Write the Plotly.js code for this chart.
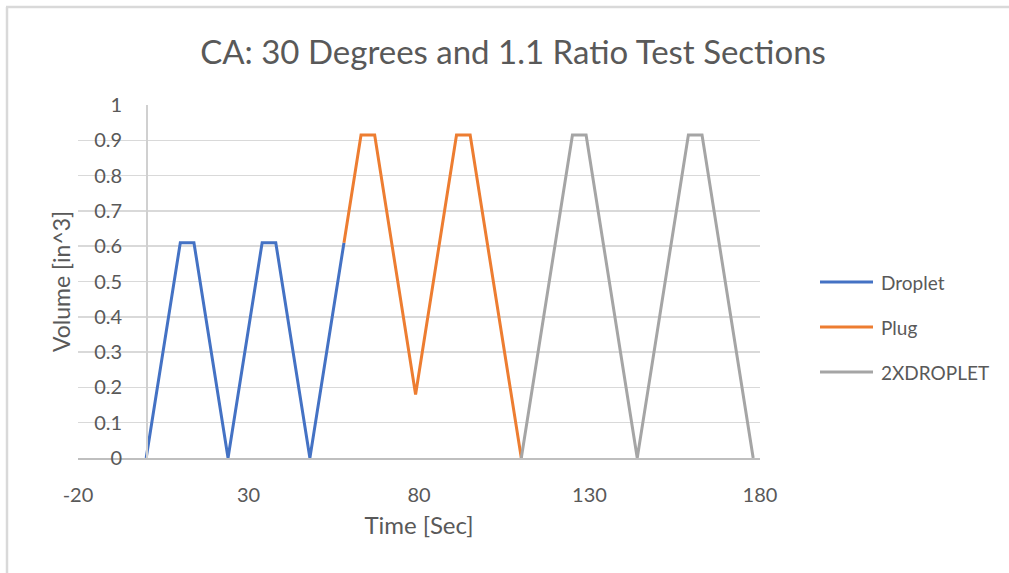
<!DOCTYPE html>
<html>
<head>
<meta charset="utf-8">
<script src="https://cdn.plot.ly/plotly-3.0.1.min.js"></script>
<style>
  html, body { margin: 0; padding: 0; background: #ffffff; overflow: hidden; }
  #chart { width: 1009px; height: 573px; }
</style>
</head>
<body>
<div id="chart"></div>
<script>
// Test section volume over time
const dropletTime = [0, 10, 14, 24, 34, 38, 48, 58];
const dropletVol  = [0, 0.61, 0.61, 0, 0.61, 0.61, 0, 0.61];

const plugTime = [58, 63, 67, 79, 91, 95, 110];
const plugVol  = [0.61, 0.915, 0.915, 0.18, 0.915, 0.915, 0];

const doubleTime = [110, 125, 129, 144, 159, 163, 178];
const doubleVol  = [0, 0.915, 0.915, 0, 0.915, 0.915, 0];

const xTicks = [-20, 30, 80, 130, 180];
const yTicks = [0, 0.1, 0.2, 0.3, 0.4, 0.5, 0.6, 0.7, 0.8, 0.9, 1];

const seriesNames  = ['Droplet', 'Plug', '2XDROPLET'];
const seriesColors = ['#4472C4', '#ED7D31', '#A5A5A5'];

const W = 1009, H = 573;
const M = { l: 78, r: 249, t: 105, b: 115 };
const plotW = W - M.l - M.r, plotH = H - M.t - M.b;
const px = v => (v - M.l) / plotW;          // pixel x -> paper x
const py = v => (H - M.b - v) / plotH;      // pixel y -> paper y

const FONT = 'Lato, "Open Sans", sans-serif';
const TXT = '#595959';

function series(i, x, y) {
  return {
    type: 'scatter', mode: 'lines', name: seriesNames[i], x: x, y: y,
    line: { color: seriesColors[i], width: 3 },
    showlegend: false
  };
}

const data = [
  series(0, dropletTime, dropletVol),
  series(1, plugTime, plugVol),
  series(2, doubleTime, doubleVol)
];

// legend on the right: a line sample and a label per series
const legendShapes = [], legendLabels = [];
seriesNames.forEach((name, i) => {
  const yc = 282 + i * 45;
  legendShapes.push({
    type: 'line', xref: 'paper', yref: 'paper',
    x0: px(820), x1: px(873), y0: py(yc), y1: py(yc),
    line: { color: seriesColors[i], width: 3 }
  });
  legendLabels.push({
    xref: 'paper', yref: 'paper', x: px(879), y: py(yc),
    xanchor: 'left', yanchor: 'middle', showarrow: false,
    text: name, font: { family: FONT, size: 19, color: TXT }
  });
});

const layout = {
  width: W, height: H,
  margin: M,
  paper_bgcolor: '#ffffff', plot_bgcolor: '#ffffff',
  font: { family: FONT, color: TXT, size: 20 },
  title: {
    text: 'CA: 30 Degrees and 1.1 Ratio Test Sections',
    font: { family: FONT, size: 33, color: TXT },
    x: px(513), xanchor: 'center', xref: 'paper',
    y: 1 - 52 / H, yanchor: 'middle', yref: 'container'
  },
  xaxis: {
    range: [-20, 180], tickvals: xTicks, ticktext: xTicks.map(String),
    showgrid: false, zeroline: false,
    showline: true, linecolor: '#bfbfbf', linewidth: 1.5,
    ticks: '', ticklabelstandoff: 18,
    tickfont: { family: FONT, size: 20, color: TXT },
    title: { text: 'Time [Sec]', font: { family: FONT, size: 24, color: TXT }, standoff: 12 },
    fixedrange: true
  },
  yaxis: {
    range: [0, 1], tickvals: yTicks, ticktext: yTicks.map(String),
    anchor: 'free', position: 0.1,
    showgrid: true, gridcolor: '#d9d9d9', gridwidth: 1.5,
    zeroline: false,
    showline: true, linecolor: '#d0d0d0', linewidth: 1.5,
    ticks: '', ticklabelstandoff: 20,
    tickfont: { family: FONT, size: 20, color: TXT },
    title: { text: 'Volume [in^3]', font: { family: FONT, size: 23, color: TXT }, standoff: 15 },
    fixedrange: true
  },
  showlegend: false,
  annotations: legendLabels,
  shapes: [
    // chart frame (left and top edges)
    { type: 'line', xref: 'paper', yref: 'paper',
      x0: px(7), x1: px(7), y0: py(7), y1: py(H),
      line: { color: '#d9d9d9', width: 2.5 } },
    { type: 'line', xref: 'paper', yref: 'paper',
      x0: px(6), x1: px(W), y0: py(7), y1: py(7),
      line: { color: '#d9d9d9', width: 2.5 } }
  ].concat(legendShapes)
};

Plotly.newPlot('chart', data, layout, { displayModeBar: false, staticPlot: true });
</script>
</body>
</html>
